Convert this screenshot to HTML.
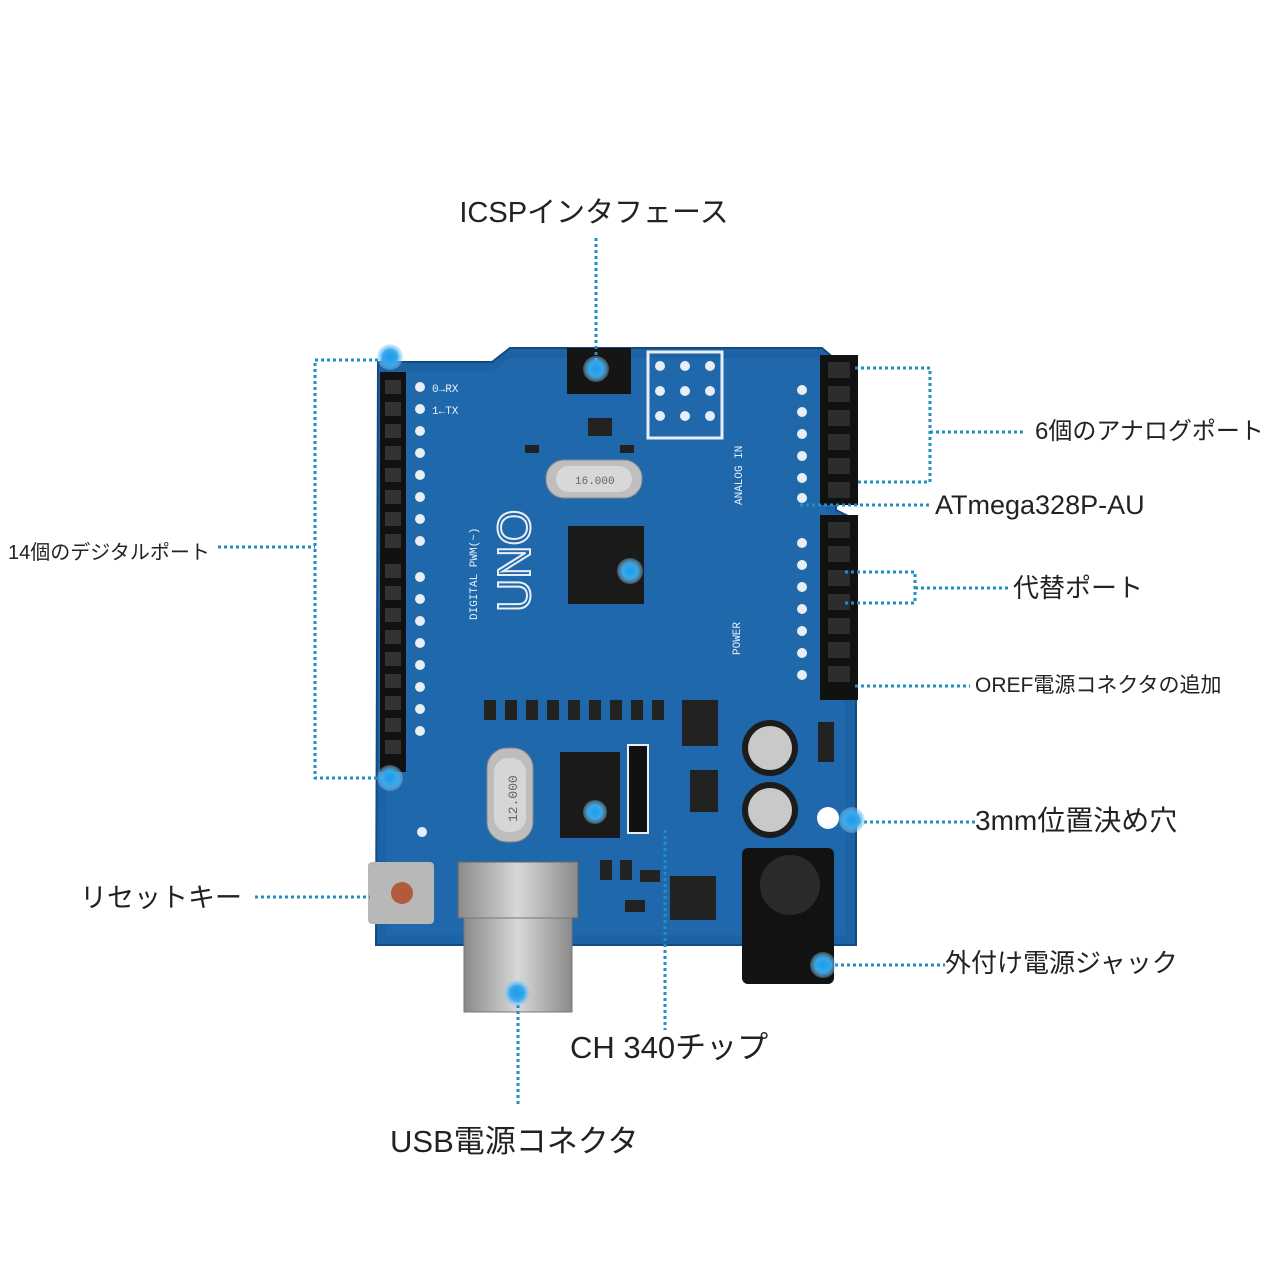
<!DOCTYPE html>
<html><head><meta charset="utf-8"><style>
html,body{margin:0;padding:0;background:#fff;}
svg{display:block}
.lb{font-family:"Liberation Sans","Noto Sans CJK JP",sans-serif;fill:#222;}
.pc{font-family:"Liberation Mono",monospace;fill:#e8f0f8;font-size:11px;}
.dl{stroke:#1f8fc4;stroke-width:3;stroke-dasharray:3 3;fill:none}
</style></head><body>
<svg width="1280" height="1280" viewBox="0 0 1280 1280" xmlns="http://www.w3.org/2000/svg">
<defs>
<radialGradient id="dot"><stop offset="0" stop-color="#1e9be6"/><stop offset="0.55" stop-color="#35a8ee"/><stop offset="1" stop-color="#8fd0f6" stop-opacity="0.3"/></radialGradient>
<linearGradient id="usb" x1="0" y1="0" x2="1" y2="0"><stop offset="0" stop-color="#8a8a8a"/><stop offset="0.5" stop-color="#d8d8d8"/><stop offset="1" stop-color="#8a8a8a"/></linearGradient>
</defs>
<path d="M378 362 L492 362 L510 348 L822 348 L836 360 L836 510 L856 520 L856 945 L376 945 Z" fill="#1d62a4" stroke="#134a80" stroke-width="2"/>
<path d="M395 372 L492 372 L510 358 L815 358 L825 368 L825 510 L845 525 L845 935 L386 935 L386 380 Z" fill="#1f68ac"/>
<rect x="380" y="372" width="26" height="400" fill="#111"/>
<g fill="#333">
<rect x="385" y="380" width="16" height="14"/><rect x="385" y="402" width="16" height="14"/><rect x="385" y="424" width="16" height="14"/><rect x="385" y="446" width="16" height="14"/><rect x="385" y="468" width="16" height="14"/><rect x="385" y="490" width="16" height="14"/><rect x="385" y="512" width="16" height="14"/><rect x="385" y="534" width="16" height="14"/><rect x="385" y="564" width="16" height="14"/><rect x="385" y="586" width="16" height="14"/><rect x="385" y="608" width="16" height="14"/><rect x="385" y="630" width="16" height="14"/><rect x="385" y="652" width="16" height="14"/><rect x="385" y="674" width="16" height="14"/><rect x="385" y="696" width="16" height="14"/><rect x="385" y="718" width="16" height="14"/><rect x="385" y="740" width="16" height="14"/>
</g>
<g fill="#e8eef4">
<circle cx="420" cy="387" r="5"/><circle cx="420" cy="409" r="5"/><circle cx="420" cy="431" r="5"/><circle cx="420" cy="453" r="5"/><circle cx="420" cy="475" r="5"/><circle cx="420" cy="497" r="5"/><circle cx="420" cy="519" r="5"/><circle cx="420" cy="541" r="5"/><circle cx="420" cy="577" r="5"/><circle cx="420" cy="599" r="5"/><circle cx="420" cy="621" r="5"/><circle cx="420" cy="643" r="5"/><circle cx="420" cy="665" r="5"/><circle cx="420" cy="687" r="5"/><circle cx="420" cy="709" r="5"/><circle cx="420" cy="731" r="5"/>
<circle cx="802" cy="390" r="5"/><circle cx="802" cy="412" r="5"/><circle cx="802" cy="434" r="5"/><circle cx="802" cy="456" r="5"/><circle cx="802" cy="478" r="5"/><circle cx="802" cy="498" r="5"/>
<circle cx="802" cy="543" r="5"/><circle cx="802" cy="565" r="5"/><circle cx="802" cy="587" r="5"/><circle cx="802" cy="609" r="5"/><circle cx="802" cy="631" r="5"/><circle cx="802" cy="653" r="5"/><circle cx="802" cy="675" r="5"/>
</g>
<rect x="820" y="355" width="38" height="150" fill="#111"/>
<rect x="820" y="515" width="38" height="185" fill="#111"/>
<g fill="#2c2c2c"><rect x="828" y="362" width="22" height="16"/><rect x="828" y="386" width="22" height="16"/><rect x="828" y="410" width="22" height="16"/><rect x="828" y="434" width="22" height="16"/><rect x="828" y="458" width="22" height="16"/><rect x="828" y="482" width="22" height="16"/>
<rect x="828" y="522" width="22" height="16"/><rect x="828" y="546" width="22" height="16"/><rect x="828" y="570" width="22" height="16"/><rect x="828" y="594" width="22" height="16"/><rect x="828" y="618" width="22" height="16"/><rect x="828" y="642" width="22" height="16"/><rect x="828" y="666" width="22" height="16"/></g>
<rect x="567" y="348" width="64" height="46" fill="#151515"/>
<rect x="648" y="352" width="74" height="86" fill="none" stroke="#e8eef4" stroke-width="3"/>
<g fill="#e8eef4"><circle cx="660" cy="366" r="5"/><circle cx="685" cy="366" r="5"/><circle cx="710" cy="366" r="5"/><circle cx="660" cy="391" r="5"/><circle cx="685" cy="391" r="5"/><circle cx="710" cy="391" r="5"/><circle cx="660" cy="416" r="5"/><circle cx="685" cy="416" r="5"/><circle cx="710" cy="416" r="5"/></g>
<rect x="546" y="460" width="96" height="38" rx="18" fill="#bfbfbf" stroke="#888"/>
<rect x="556" y="466" width="76" height="26" rx="13" fill="#d8d8d8"/>
<text x="575" y="484" class="pc" style="fill:#666">16.000</text>
<rect x="568" y="526" width="76" height="78" fill="#1a1a1a"/>
<text x="0" y="0" transform="translate(530,612) rotate(-90)" font-family="Liberation Sans" font-size="46" fill="none" stroke="#e8eef4" stroke-width="2">UNO</text>
<text transform="translate(477,620) rotate(-90)" class="pc">DIGITAL PWM(~)</text>
<text transform="translate(740,655) rotate(-90)" class="pc">POWER</text>
<text transform="translate(742,505) rotate(-90)" class="pc">ANALOG IN</text>
<g fill="#222"><rect x="588" y="418" width="24" height="18"/><rect x="525" y="445" width="14" height="8"/><rect x="620" y="445" width="14" height="8"/><rect x="682" y="700" width="36" height="46"/><rect x="670" y="876" width="46" height="44"/><rect x="690" y="770" width="28" height="42"/><rect x="818" y="722" width="16" height="40"/>
<rect x="484" y="700" width="12" height="20"/><rect x="505" y="700" width="12" height="20"/><rect x="526" y="700" width="12" height="20"/><rect x="547" y="700" width="12" height="20"/><rect x="568" y="700" width="12" height="20"/><rect x="589" y="700" width="12" height="20"/><rect x="610" y="700" width="12" height="20"/><rect x="631" y="700" width="12" height="20"/><rect x="652" y="700" width="12" height="20"/>
<rect x="600" y="860" width="12" height="20"/><rect x="620" y="860" width="12" height="20"/><rect x="640" y="870" width="20" height="12"/><rect x="625" y="900" width="20" height="12"/></g>
<rect x="487" y="748" width="46" height="94" rx="20" fill="#bdbdbd" stroke="#888"/>
<rect x="494" y="758" width="32" height="74" rx="14" fill="#d6d6d6"/>
<text transform="translate(517,822) rotate(-90)" class="pc" style="fill:#666;font-size:13px">12.000</text>
<rect x="560" y="752" width="60" height="86" fill="#1a1a1a"/>
<rect x="628" y="745" width="20" height="88" fill="#111" stroke="#e8eef4" stroke-width="2"/>
<circle cx="770" cy="748" r="28" fill="#1c1c1c"/><circle cx="770" cy="748" r="22" fill="#c9c9c9"/>
<circle cx="770" cy="810" r="28" fill="#1c1c1c"/><circle cx="770" cy="810" r="22" fill="#c9c9c9"/>
<rect x="742" y="848" width="92" height="136" rx="6" fill="#121212"/>
<circle cx="790" cy="885" r="30" fill="#2a2a2a"/>
<circle cx="828" cy="818" r="11" fill="#fff"/>
<circle cx="422" cy="832" r="5" fill="#e8eef4"/>
<rect x="458" y="862" width="120" height="56" fill="url(#usb)" stroke="#666"/>
<rect x="464" y="918" width="108" height="94" fill="url(#usb)" stroke="#777"/>
<rect x="368" y="862" width="66" height="62" rx="4" fill="#b8b8b8"/>
<circle cx="402" cy="893" r="11" fill="#b25a3c"/>
<text x="432" y="392" class="pc">0→RX</text>
<text x="432" y="414" class="pc">1←TX</text>
<path class="dl" d="M596 238 L596 370"/>
<path class="dl" d="M218 547 L315 547 M390 360 L315 360 L315 778 L390 778"/>
<path class="dl" d="M855 368 L930 368 L930 482 L855 482 M930 432 L1025 432"/>
<path class="dl" d="M800 505 L930 505"/>
<path class="dl" d="M845 572 L915 572 L915 603 L845 603 M915 588 L1010 588"/>
<path class="dl" d="M855 686 L970 686"/>
<path class="dl" d="M852 822 L975 822"/>
<path class="dl" d="M823 965 L945 965"/>
<path class="dl" d="M665 830 L665 1030"/>
<path class="dl" d="M518 993 L518 1105"/>
<path class="dl" d="M255 897 L370 897"/>
<g fill="url(#dot)">
<circle cx="390" cy="357" r="13"/><circle cx="596" cy="369" r="13"/><circle cx="630" cy="571" r="13"/><circle cx="390" cy="778" r="13"/><circle cx="852" cy="820" r="13"/><circle cx="823" cy="965" r="13"/><circle cx="517" cy="993" r="13"/><circle cx="595" cy="812" r="12"/>
</g>
<text x="594" y="222" text-anchor="middle" class="lb" font-size="29">ICSPインタフェース</text>
<text x="1035" y="439" class="lb" font-size="24">6個のアナログポート</text>
<text x="935" y="514" class="lb" font-size="27">ATmega328P-AU</text>
<text x="1013" y="597" class="lb" font-size="26">代替ポート</text>
<text x="975" y="692" class="lb" font-size="21">OREF電源コネクタの追加</text>
<text x="975" y="830" class="lb" font-size="28">3mm位置決め穴</text>
<text x="945" y="972" class="lb" font-size="26">外付け電源ジャック</text>
<text x="570" y="1058" class="lb" font-size="31">CH 340チップ</text>
<text x="390" y="1152" class="lb" font-size="31">USB電源コネクタ</text>
<text x="80" y="907" class="lb" font-size="27">リセットキー</text>
<text x="8" y="559" class="lb" font-size="20">14個のデジタルポート</text>
</svg>
</body></html>
